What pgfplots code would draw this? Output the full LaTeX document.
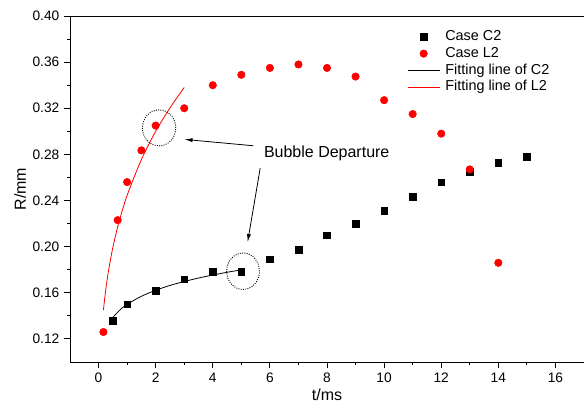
\documentclass[border=0pt]{standalone}
\usepackage{fontspec}
\setmainfont{Liberation Sans}
\usepackage{pgfplots}
\pgfplotsset{compat=1.18}
\usetikzlibrary{arrows.meta}

\begin{document}
\begin{tikzpicture}
\begin{axis}[
  at={(0,0)}, anchor=south west,
  scale only axis,
  width=385.5pt, height=259.5pt,
  xmin=-1, xmax=17, ymin=0.10, ymax=0.40,
  xtick={0,2,...,16}, ytick={0.12,0.16,...,0.41},
  minor x tick num=1, minor y tick num=1,
  axis x line=box, axis y line=left,
  axis line style={-, line width=0.7pt},
  xtick pos=bottom, ytick pos=left,
  tick align=outside,
  major tick length=4.5pt, minor tick length=2.5pt,
  every tick/.style={black, line width=0.7pt},
  /pgf/number format/assume math mode=true,
  tick label style={font=\fontsize{10.3}{12}\selectfont},
  yticklabel style={/pgf/number format/fixed, /pgf/number format/fixed zerofill, /pgf/number format/precision=2},
  xlabel={t/ms}, ylabel={R/mm},
  label style={font=\fontsize{12}{14}\selectfont},
  xlabel style={yshift=2pt},
  ylabel style={yshift=-2pt},
  legend image code/.code={\draw[mark repeat=2,mark phase=2,#1] plot coordinates {(0cm,0cm) (0.42cm,0cm) (0.84cm,0cm)};},
  legend style={at={(0.648,0.972)}, anchor=north west, draw=none, fill=none,
    font=\fontsize{10.8}{12}\selectfont, row sep=0pt,
    nodes={text height=8.2pt, text depth=2.3pt, inner sep=1pt},
    /tikz/every odd column/.append style={column sep=3pt}},
  legend cell align=left,
]
\addplot[only marks, mark=square*, mark size=2.5pt, black] coordinates {
  (0.5,0.136) (1,0.150) (2,0.162) (3,0.1716) (4,0.178) (5,0.178) (6,0.189)
  (7,0.1976) (8,0.210) (9,0.220) (10,0.231) (11,0.243) (12,0.2557) (13,0.265)
  (14,0.273) (15,0.278)};
\addplot[only marks, mark=*, mark size=2.8pt, red] coordinates {
  (0.17,0.126) (0.67,0.223) (1,0.256) (1.5,0.2835) (2,0.305) (3,0.320) (4,0.340)
  (5,0.349) (6,0.355) (7,0.358) (8,0.355) (9,0.3475) (10,0.327) (11,0.315)
  (12,0.298) (13,0.267) (14,0.186)};
\addplot[black, line width=0.6pt, smooth, no marks] coordinates {
  (0.5,0.1387) (0.75,0.1452) (1,0.150) (1.5,0.1570) (2,0.1622) (2.5,0.1664)
  (3,0.1698) (3.5,0.1728) (4,0.1754) (4.5,0.1778) (5,0.1799)};
\addplot[red, line width=0.6pt, smooth, no marks] coordinates {
  (0.17,0.1449) (0.25,0.1624) (0.35,0.1793) (0.5,0.1992) (0.7,0.2200) (1,0.2444)
  (1.5,0.2755) (2,0.300) (2.5,0.3203) (3,0.3380)};
\legend{Case C2, Case L2, Fitting line of C2, Fitting line of L2}

\draw[densely dotted, line width=0.7pt] (axis cs:2.12,0.303) ellipse [x radius=12.5pt, y radius=13.5pt];
\draw[densely dotted, line width=0.7pt] (axis cs:5.06,0.1787) ellipse [x radius=12.3pt, y radius=13.7pt];
\node[font=\fontsize{12}{14}\selectfont] at (axis cs:7.99,0.2811) {Bubble Departure};
\draw[-{Latex[length=6pt,width=3pt]}, line width=0.6pt] (axis cs:5.42,0.2875) -- (axis cs:3.01,0.293);
\draw[-{Latex[length=6pt,width=3pt]}, line width=0.6pt] (axis cs:5.66,0.268) -- (axis cs:5.22,0.204);
\end{axis}
\pgfresetboundingbox
\path (-52.5pt,-34.5pt) rectangle (385.5pt,271.5pt);
\end{tikzpicture}
\end{document}
